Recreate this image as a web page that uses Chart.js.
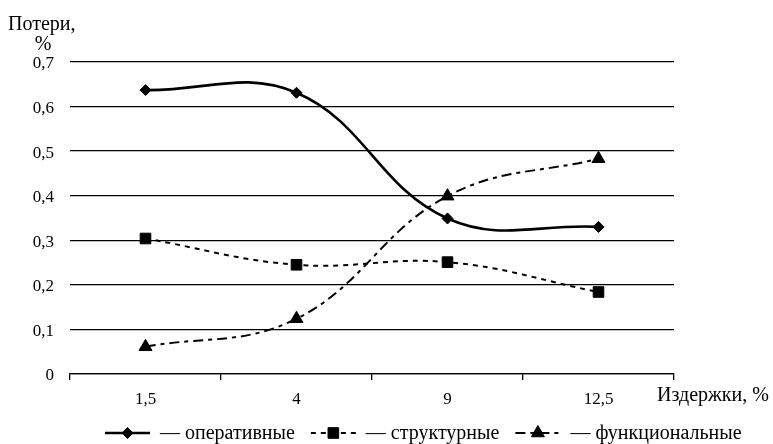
<!DOCTYPE html>
<html>
<head>
<meta charset="utf-8">
<script src="https://cdn.jsdelivr.net/npm/chart.js@4"></script>
<style>
html,body{margin:0;padding:0;background:#fff;}
#wrap{width:773px;height:444px;position:relative;}
</style>
</head>
<body>
<div id="wrap"><canvas id="c" width="773" height="444"></canvas></div>
<script>
const categories = ['1,5', '4', '9', '12,5'];
const operativnye = [0.637, 0.631, 0.349, 0.330];
const strukturnye = [0.304, 0.245, 0.251, 0.184];
const funktsionalnye = [0.061, 0.124, 0.399, 0.483];
const seriesNames = ['— оперативные', '— структурные', '— функциональные'];
const yTicks = [0, 0.1, 0.2, 0.3, 0.4, 0.5, 0.6, 0.7];
const yTitle = ['Потери,', '%'];
const xTitle = 'Издержки, %';

const FONT = '"Liberation Serif", "Times New Roman", serif';
const FS = 17;   // tick labels
const FT = 20;   // titles and legend

const extraText = {
  id: 'extraText',
  afterDraw(chart) {
    const ctx = chart.ctx;
    const area = chart.chartArea;
    ctx.save();
    ctx.fillStyle = '#000';
    ctx.font = FT + 'px ' + FONT;
    ctx.textBaseline = 'alphabetic';
    ctx.textAlign = 'left';
    ctx.fillText(yTitle[0], 8, 30);
    ctx.textAlign = 'center';
    ctx.fillText(yTitle[1], 43, 50);
    ctx.textAlign = 'left';
    ctx.fillText(xTitle, 657, 401);

    // legend
    const y = 433;
    const sampleW = 45;
    const gapAfterSample = 10;
    const gapItems = 16;
    let x = 105;
    chart.data.datasets.forEach((ds, i) => {
      ctx.save();
      ctx.strokeStyle = '#000';
      ctx.lineWidth = ds.borderWidth;
      ctx.setLineDash(ds.borderDash || []);
      ctx.beginPath();
      ctx.moveTo(x, y);
      ctx.lineTo(x + sampleW, y);
      ctx.stroke();
      ctx.restore();
      ctx.save();
      ctx.fillStyle = '#000';
      ctx.strokeStyle = '#000';
      Chart.helpers.drawPoint(ctx, {
        pointStyle: ds.pointStyle, radius: ds.pointRadius, rotation: 0,
        borderWidth: 1
      }, x + sampleW / 2, y);
      ctx.restore();
      x += sampleW + gapAfterSample;
      ctx.textAlign = 'left';
      ctx.textBaseline = 'alphabetic';
      ctx.fillStyle = '#000';
      ctx.fillText(seriesNames[i], x, y + 6);
      x += ctx.measureText(seriesNames[i]).width + gapItems;
    });
    ctx.restore();
  }
};

new Chart(document.getElementById('c'), {
  type: 'line',
  data: {
    labels: categories,
    datasets: [
      { label: seriesNames[0], data: operativnye, borderColor: '#000', backgroundColor: '#000',
        borderWidth: 2.6, pointStyle: 'rectRot', pointRadius: 5.5, pointBorderWidth: 1,
        tension: 0.4, fill: false },
      { label: seriesNames[1], data: strukturnye, borderColor: '#000', backgroundColor: '#000',
        borderWidth: 2, borderDash: [5, 5], pointStyle: 'rect', pointRadius: 7.5, pointBorderWidth: 1,
        tension: 0.4, fill: false },
      { label: seriesNames[2], data: funktsionalnye, borderColor: '#000', backgroundColor: '#000',
        borderWidth: 2, borderDash: [10, 5, 4, 5], pointStyle: 'triangle', pointRadius: 7.5, pointBorderWidth: 1,
        tension: 0.4, fill: false }
    ]
  },
  options: {
    responsive: false,
    animation: false,
    events: [],
    layout: { padding: { top: 62, right: 99, bottom: 30, left: 0 } },
    plugins: { legend: { display: false }, tooltip: { enabled: false } },
    scales: {
      x: {
        offset: true,
        grid: { offset: true, drawOnChartArea: false, drawTicks: true, tickLength: 6, color: '#000', lineWidth: 1.3 },
        border: { display: true, color: '#000', width: 1.3 },
        ticks: { color: '#000', font: { family: FONT, size: FS }, padding: 9, maxRotation: 0 },
        afterFit(s) { s.height = 40; }
      },
      y: {
        min: 0, max: 0.7,
        afterBuildTicks(s) { s.ticks = yTicks.map(v => ({ value: v })); },
        grid: { color: '#000', lineWidth: 1.3, drawTicks: false },
        border: { display: false },
        ticks: {
          color: '#000', font: { family: FONT, size: FS }, padding: 16, labelOffset: 2,
          callback: v => v === 0 ? '0' : v.toFixed(1).replace('.', ',')
        },
        afterFit(s) { s.width = 70; }
      }
    }
  },
  plugins: [extraText]
});
</script>
</body>
</html>
